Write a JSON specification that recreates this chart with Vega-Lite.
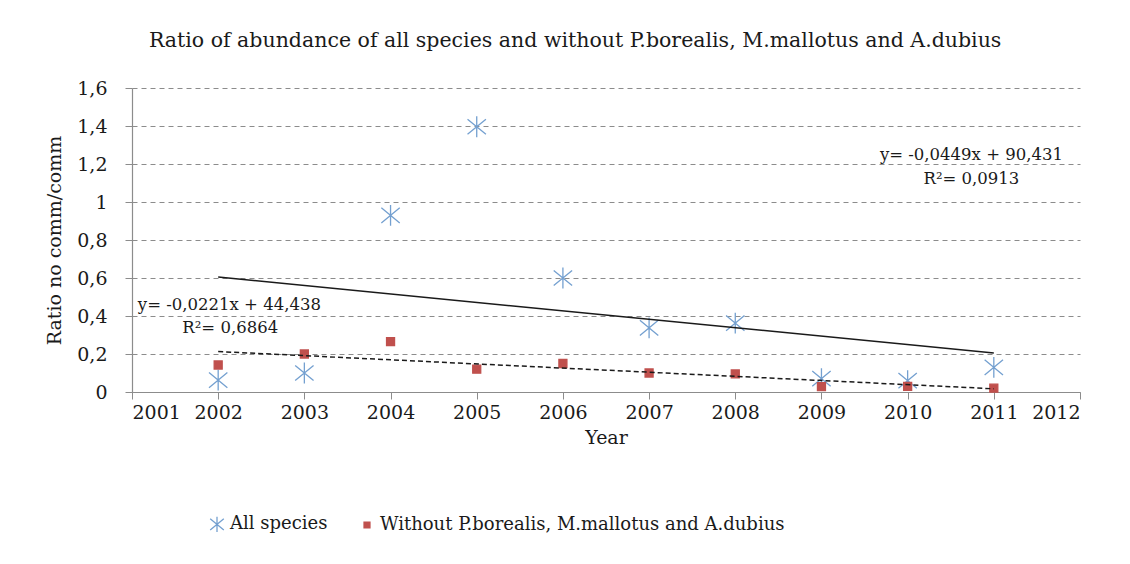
{
  "$schema": "https://vega.github.io/schema/vega-lite/v6.json",
  "width": 948,
  "height": 304,
  "padding": {"left": 45, "top": 30, "right": 10, "bottom": 5},
  "background": "white",
  "title": {
    "text": "Ratio of abundance of all species and without P.borealis, M.mallotus and A.dubius",
    "font": "DejaVu Serif",
    "fontSize": 20.5,
    "fontWeight": "normal",
    "color": "#1a1a1a",
    "anchor": "middle",
    "frame": "bounds",
    "offset": 28,
    "dx": 12
  },
  "datasets": {
    "points": [
      {"year": 2002, "value": 0.063, "series": "All species"},
      {"year": 2003, "value": 0.10, "series": "All species"},
      {"year": 2004, "value": 0.93, "series": "All species"},
      {"year": 2005, "value": 1.396, "series": "All species"},
      {"year": 2006, "value": 0.60, "series": "All species"},
      {"year": 2007, "value": 0.337, "series": "All species"},
      {"year": 2008, "value": 0.363, "series": "All species"},
      {"year": 2009, "value": 0.07, "series": "All species"},
      {"year": 2010, "value": 0.06, "series": "All species"},
      {"year": 2011, "value": 0.13, "series": "All species"},
      {"year": 2002, "value": 0.142, "series": "Without P.borealis, M.mallotus and A.dubius"},
      {"year": 2003, "value": 0.20, "series": "Without P.borealis, M.mallotus and A.dubius"},
      {"year": 2004, "value": 0.265, "series": "Without P.borealis, M.mallotus and A.dubius"},
      {"year": 2005, "value": 0.12, "series": "Without P.borealis, M.mallotus and A.dubius"},
      {"year": 2006, "value": 0.15, "series": "Without P.borealis, M.mallotus and A.dubius"},
      {"year": 2007, "value": 0.10, "series": "Without P.borealis, M.mallotus and A.dubius"},
      {"year": 2008, "value": 0.095, "series": "Without P.borealis, M.mallotus and A.dubius"},
      {"year": 2009, "value": 0.028, "series": "Without P.borealis, M.mallotus and A.dubius"},
      {"year": 2010, "value": 0.03, "series": "Without P.borealis, M.mallotus and A.dubius"},
      {"year": 2011, "value": 0.02, "series": "Without P.borealis, M.mallotus and A.dubius"}
    ],
    "notes": [
      {"year": 2010.74, "value": 1.247, "label": "y= -0,0449x + 90,431"},
      {"year": 2010.74, "value": 1.121, "label": "R²= 0,0913"},
      {"year": 2002.13, "value": 0.458, "label": "y= -0,0221x + 44,438"},
      {"year": 2002.14, "value": 0.337, "label": "R²= 0,6864"}
    ]
  },
  "encoding": {
    "x": {
      "field": "year",
      "type": "quantitative",
      "scale": {"domain": [2001, 2012], "nice": false, "zero": false},
      "axis": {
        "title": "Year",
        "values": [2001, 2002, 2003, 2004, 2005, 2006, 2007, 2008, 2009, 2010, 2011, 2012],
        "format": "d",
        "grid": false,
        "tickSize": 7,
        "labelPadding": 4,
        "titlePadding": 6
      }
    },
    "y": {
      "field": "value",
      "type": "quantitative",
      "scale": {"domain": [0, 1.6], "nice": false},
      "axis": {
        "title": "Ratio no comm/comm",
        "values": [0, 0.2, 0.4, 0.6, 0.8, 1, 1.2, 1.4, 1.6],
        "labelExpr": "replace(format(datum.value, '.1~f'), '.', ',')",
        "grid": true,
        "gridDash": [5, 4],
        "gridColor": "#8c8c8c",
        "gridWidth": 1,
        "tickSize": 7,
        "labelPadding": 18,
        "titlePadding": 12
      }
    }
  },
  "layer": [
    {
      "data": {"name": "points"},
      "mark": {"type": "point", "filled": false, "strokeWidth": 1.3, "opacity": 1, "size": 64},
      "encoding": {
        "shape": {
          "field": "series",
          "type": "nominal",
          "title": null,
          "scale": {
            "domain": ["All species", "Without P.borealis, M.mallotus and A.dubius"],
            "range": ["M0,-2.6L0,2.6M-2.3,-1.9L2.3,1.9M2.3,-1.9L-2.3,1.9", "square"]
          }
        },
        "stroke": {
          "field": "series",
          "type": "nominal",
          "title": null,
          "scale": {
            "domain": ["All species", "Without P.borealis, M.mallotus and A.dubius"],
            "range": ["#74a0d0", "#C0504D"]
          }
        },
        "fill": {
          "field": "series",
          "type": "nominal",
          "title": null,
          "scale": {
            "domain": ["All species", "Without P.borealis, M.mallotus and A.dubius"],
            "range": ["transparent", "#C0504D"]
          }
        }
      }
    },
    {
      "data": {"name": "points"},
      "transform": [
        {"filter": "datum.series === 'All species'"},
        {"regression": "value", "on": "year", "extent": [2002, 2011]}
      ],
      "mark": {"type": "line", "color": "#1a1a1a", "strokeWidth": 1.5},
      "encoding": {}
    },
    {
      "data": {"name": "points"},
      "transform": [
        {"filter": "datum.series !== 'All species'"},
        {"regression": "value", "on": "year", "extent": [2002, 2011]}
      ],
      "mark": {"type": "line", "color": "#1a1a1a", "strokeWidth": 1.5, "strokeDash": [5, 3]},
      "encoding": {}
    },
    {
      "data": {"name": "notes"},
      "mark": {"type": "text", "font": "DejaVu Serif", "fontSize": 16.5, "color": "#1a1a1a", "align": "center", "baseline": "middle"},
      "encoding": {"text": {"field": "label", "type": "nominal"}}
    }
  ],
  "config": {
    "view": {"stroke": null},
    "axis": {
      "labelFont": "DejaVu Serif",
      "labelFontSize": 19,
      "labelColor": "#1a1a1a",
      "titleFont": "DejaVu Serif",
      "titleFontSize": 19,
      "titleFontWeight": "normal",
      "titleColor": "#1a1a1a",
      "domainColor": "#8c8c8c",
      "tickColor": "#8c8c8c",
      "domainWidth": 1.2
    },
    "legend": {
      "orient": "none",
      "legendX": 76,
      "legendY": 427,
      "direction": "horizontal",
      "labelFont": "DejaVu Serif",
      "labelFontSize": 18,
      "labelColor": "#1a1a1a",
      "labelLimit": 600,
      "labelOffset": 4,
      "symbolSize": 35,
      "symbolStrokeWidth": 1.3,
      "columnPadding": 30
    }
  }
}
